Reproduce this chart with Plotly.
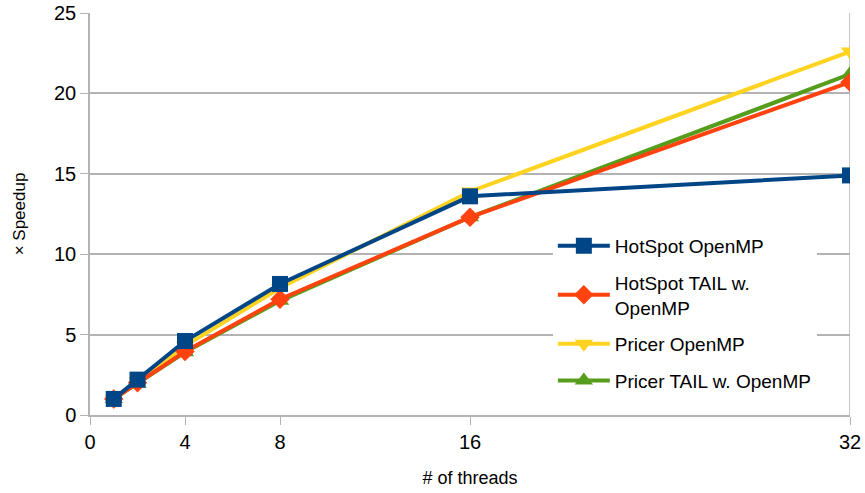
import plotly.graph_objects as go

threads = [1, 2, 4, 8, 16, 32]
hotspot_omp = [1.0, 2.2, 4.6, 8.15, 13.6, 14.9]
hotspot_tail = [1.0, 2.0, 3.95, 7.2, 12.3, 20.7]
pricer_omp = [1.0, 2.1, 4.3, 7.9, 13.9, 22.6]
pricer_tail = [1.0, 1.95, 3.9, 7.1, 12.3, 21.2]

x_ticks = [0, 4, 8, 16, 32]
y_ticks = [0, 5, 10, 15, 20, 25]

series = [
    ("HotSpot OpenMP", hotspot_omp, "#004586", "square", 16),
    ("HotSpot TAIL w.<br>OpenMP", hotspot_tail, "#ff420e", "diamond", 15),
    ("Pricer OpenMP", pricer_omp, "#ffd320", "triangle-down", 16),
    ("Pricer TAIL w. OpenMP", pricer_tail, "#579d1c", "triangle-up", 16),
]

fig = go.Figure()
# draw the last series first so HotSpot OpenMP sits on top; legend keeps the list order
for i, (name, vals, color, sym, size) in reversed(list(enumerate(series))):
    fig.add_trace(go.Scatter(
        x=threads, y=vals, name=name, mode="lines+markers",
        legendgroup=f"g{i}", legendrank=i + 1,
        line=dict(color=color, width=4),
        marker=dict(symbol=sym, size=size, color=color),
    ))

grid = "#b3b3b3"
fig.update_layout(
    width=865, height=493,
    margin=dict(l=90, r=15, t=13, b=78),
    paper_bgcolor="white", plot_bgcolor="white",
    font=dict(family="Liberation Sans, Arial, sans-serif", color="#000000", size=20),
    legend=dict(
        x=0.609, y=0.468, xanchor="left", yanchor="top",
        bgcolor="white", font=dict(size=19), tracegroupgap=9,
        itemwidth=52,
    ),
    xaxis=dict(
        range=[0, 32], tickvals=x_ticks, showgrid=False, automargin=False,
        showline=True, linecolor=grid, linewidth=1.5,
        ticks="outside", ticklen=8, tickcolor=grid, zeroline=False,
        tickfont=dict(size=20),
        title=dict(text="# of threads", font=dict(size=18), standoff=20),
    ),
    yaxis=dict(
        range=[0, 25], tickvals=y_ticks, showgrid=True, gridcolor=grid, gridwidth=1.5,
        showline=True, linecolor=grid, linewidth=1.5, automargin=False,
        ticks="outside", ticklen=8, tickcolor=grid, zeroline=False,
        tickfont=dict(size=20),
        title=dict(text="× Speedup", font=dict(size=17), standoff=24),
    ),
)
# right border of the plotting area
fig.add_shape(type="line", xref="x", yref="paper", x0=32, x1=32, y0=0, y1=1,
              line=dict(color=grid, width=1.5), layer="below")

fig.write_html("out.html")
